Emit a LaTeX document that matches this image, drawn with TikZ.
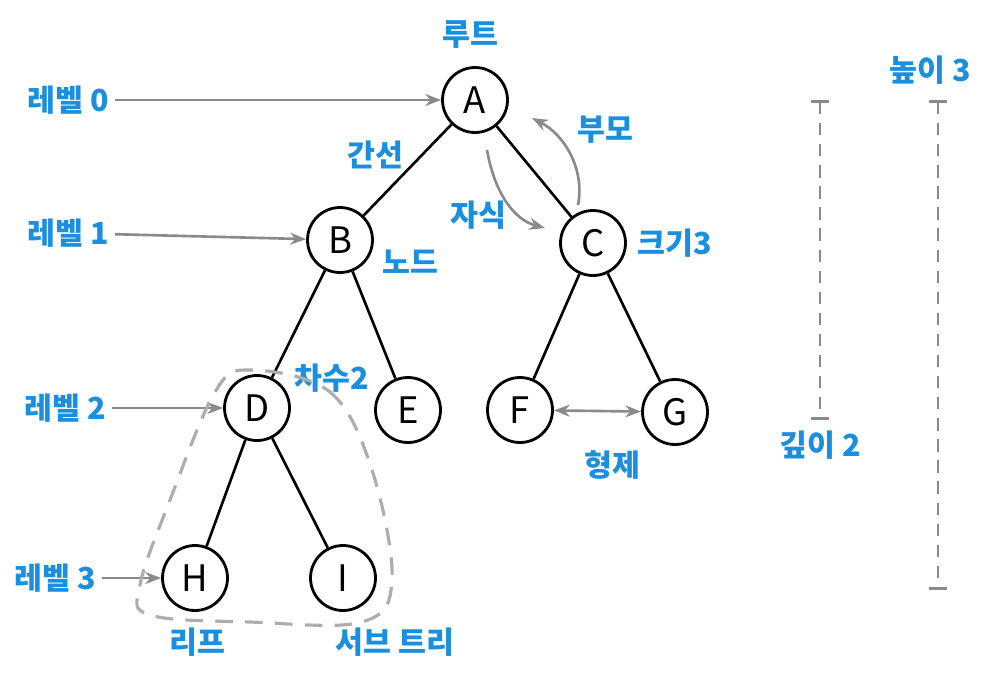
\documentclass[tikz,border=0pt]{standalone}
\usepackage{fontspec}
\setmainfont{Noto Sans CJK KR}
\usetikzlibrary{arrows.meta}
\definecolor{lblue}{HTML}{1A8FE0}
\definecolor{lgray}{HTML}{8A8A8A}

\begin{document}
\begin{tikzpicture}[
  x=0.02cm, y=-0.02cm,
  vert/.style={circle, draw, line width=1.6pt, minimum size=1.3cm, inner sep=0pt, font=\huge},
  lbl/.style={text=lblue, font=\LARGE\bfseries},
  arr/.style={-{Stealth[length=9pt]}, line width=1.5pt, lgray},
  bar/.style={line width=1.5pt, lgray, dash pattern=on 7pt off 5pt, {Bar[width=10pt]}-{Bar[width=10pt]}}
]
  \useasboundingbox (0,0) rectangle (1000,673);

  % Tree
  \node[vert] (A) at (475,100) {A};
  \node[vert] (B) at (340,240) {B};
  \node[vert] (C) at (593,243) {C};
  \node[vert] (D) at (257,408) {D};
  \node[vert] (E) at (408,410) {E};
  \node[vert] (F) at (520,410) {F};
  \node[vert] (G) at (675,412) {G};
  \node[vert] (H) at (195,578) {H};
  \node[vert] (I) at (343,578) {I};
  \draw[line width=1.5pt] (A) -- (B) (A) -- (C) (B) -- (D) (B) -- (E)
               (C) -- (F) (C) -- (G) (D) -- (H) (D) -- (I);

  % Levels
  \node[lbl] (lv0) at (68,100) {레벨 0};
  \node[lbl] (lv1) at (68,233) {레벨 1};
  \node[lbl] (lv2) at (65,408) {레벨 2};
  \node[lbl] (lv3) at (55,578) {레벨 3};
  \draw[arr] (lv0) -- (A);
  \draw[arr] (lv1) -- (B);
  \draw[arr] (lv2) -- (D);
  \draw[arr] (lv3) -- (H);

  % Labels
  \node[lbl] (root) at (470,35) {루트};
  \node[lbl] (edge) at (375,155) {간선};
  \node[lbl] (child) at (478,215) {자식};
  \node[lbl] (parent) at (605,130) {부모};
  \node[lbl] (node) at (410,262) {노드};
  \node[lbl] (size) at (675,243) {크기3};
  \node[lbl] (deg) at (332,378) {차수2};
  \node[lbl] (sib) at (612,465) {형제};
  \node[lbl] (leaf) at (197,642) {리프};
  \node[lbl] (sub) at (395,642) {서브 트리};
  \node[lbl] (depth) at (820,445) {깊이 2};
  \node[lbl] (height) at (930,70) {높이 3};

  % Parent / child / sibling arrows
  \coordinate (c0) at (487,150);
  \coordinate (c1) at (545,228);
  \coordinate (p0) at (578,205);
  \coordinate (p1) at (532,118);
  \draw[arr] (c0) .. controls (495,195) and (515,220) .. (c1);
  \draw[arr] (p0) .. controls (585,170) and (565,135) .. (p1);
  \draw[arr, {Stealth[length=9pt]}-{Stealth[length=9pt]}] (F) -- (G);

  % Subtree outline
  \draw[line width=1.8pt, lgray!70, dash pattern=on 10pt off 7pt]
    plot[smooth cycle, tension=0.6] coordinates {(250,370) (330,392) (372,470) (392,580) (362,622) (250,622) (150,615) (140,585) (170,500) (215,392)};

  % Depth and height
  \coordinate (d0) at (820,100);
  \coordinate (d1) at (820,420);
  \coordinate (h0) at (938,100);
  \coordinate (h1) at (938,590);
  \draw[bar] (d0) -- (d1);
  \draw[bar] (h0) -- (h1);
\end{tikzpicture}
\end{document}
